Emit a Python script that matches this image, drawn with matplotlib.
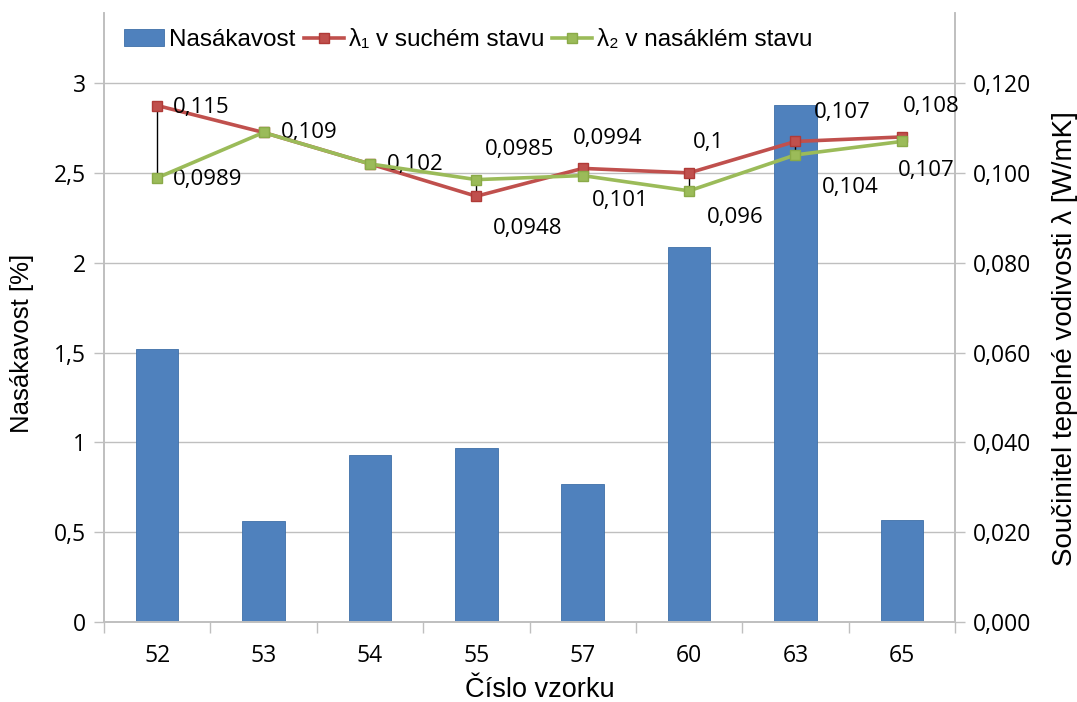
import numpy as np
import matplotlib.pyplot as plt
from matplotlib.ticker import FixedLocator, FuncFormatter

# data
samples = ["52", "53", "54", "55", "57", "60", "63", "65"]
nasakavost = [1.52, 0.56, 0.93, 0.97, 0.77, 2.09, 2.88, 0.57]
lambda_dry = [0.115, 0.109, 0.102, 0.0948, 0.101, 0.1, 0.107, 0.108]
lambda_wet = [0.0989, 0.109, 0.102, 0.0985, 0.0994, 0.096, 0.104, 0.107]
dry_labels = ["0,115", "0,109", "0,102", "0,0948", "0,101", "0,1", "0,107", "0,108"]
wet_labels = ["0,0989", None, None, "0,0985", "0,0994", "0,096", "0,104", "0,107"]

# label offsets from the marker, in pixels (right, down)
dry_off = [(16, 1.5), (17, 0), (17, 1), (17, 32), (9, 32), (4, -30), (18, -29), (1, -30)]
wet_off = [(16, 2), None, None, (9, -30), (-10, -37), (18, 27), (26, 33), (-4, 29)]

blue = "#4F81BD"
red = "#C0504D"
green = "#9BBB59"
grid_col = "#BFBFBF"
tick_font = "Open Sans"
label_font = ["Liberation Sans", "DejaVu Sans"]

fig = plt.figure(figsize=(10.77, 7.02), dpi=100)
ax = fig.add_axes([104 / 1077, 80 / 702, 851 / 1077, 609 / 702])
ax2 = ax.twinx()

x = np.arange(len(samples))
ax.bar(x, nasakavost, width=0.4, color=blue, edgecolor="#3E6FA8", linewidth=0.6,
       label="Nasákavost", zorder=2)

ax.set_xlim(-0.5, len(samples) - 0.5)
ax.set_ylim(0, 3.39)
ax2.set_ylim(0, 3.39 * 0.04)

# high-low lines between the two lambda series
ax2.vlines(x, lambda_wet, lambda_dry, color="black", linewidth=1, zorder=2)
l1, = ax2.plot(x, lambda_dry, color=red, linewidth=2.6, marker="s", markersize=7,
               markerfacecolor=red, markeredgecolor="#B03A37", label="λ₁ v suchém stavu",
               zorder=3)
l2, = ax2.plot(x, lambda_wet, color=green, linewidth=2.6, marker="s", markersize=7,
               markerfacecolor=green, markeredgecolor="#8AAA48", label="λ₂ v nasáklém stavu",
               zorder=4)

for xi, v, txt, off in zip(x, lambda_dry, dry_labels, dry_off):
    ax2.annotate(txt, (xi, v), xytext=(off[0] * 0.72, -off[1] * 0.72), textcoords="offset points",
                 ha="left", va="center", fontsize=16, family=tick_font, color="black")
for xi, v, txt, off in zip(x, lambda_wet, wet_labels, wet_off):
    if txt is None:
        continue
    ax2.annotate(txt, (xi, v), xytext=(off[0] * 0.72, -off[1] * 0.72), textcoords="offset points",
                 ha="left", va="center", fontsize=16, family=tick_font, color="black")

# left axis
ax.set_yticks(np.arange(0, 3.01, 0.5))
ax.yaxis.set_major_formatter(FuncFormatter(lambda v, p: ("%g" % v).replace(".", ",")))
ax.grid(axis="y", color=grid_col, linewidth=1, zorder=0)
ax.set_axisbelow(True)
ax.tick_params(axis="y", length=7, color=grid_col, width=1, labelsize=16.5, pad=6)

# right axis
ax2.set_yticks(np.arange(0, 0.1201, 0.02))
ax2.yaxis.set_major_formatter(FuncFormatter(lambda v, p: ("%.3f" % v).replace(".", ",")))
ax2.tick_params(axis="y", length=7, color=grid_col, width=1, labelsize=16.5, pad=6)

# x axis: ticks between categories, labels at centers
ax.xaxis.set_major_locator(FixedLocator(np.arange(-0.5, len(samples), 1.0)))
ax.xaxis.set_major_formatter(FuncFormatter(lambda v, p: ""))
ax.xaxis.set_minor_locator(FixedLocator(x))
ax.set_xticklabels(samples, minor=True)
ax.tick_params(axis="x", which="major", length=8, color=grid_col, width=1)
ax.tick_params(axis="x", which="minor", length=0, labelsize=16.5, pad=16)

for a in (ax, ax2):
    for lab in a.get_xticklabels(minor=True) + a.get_yticklabels():
        lab.set_family(tick_font)
    a.spines["top"].set_visible(False)
    for s in ("left", "right", "bottom"):
        a.spines[s].set_color(grid_col)
        a.spines[s].set_linewidth(1.2)

ax.set_xlabel("Číslo vzorku", fontsize=19.5, family=label_font, va="center")
ax.xaxis.set_label_coords(0.512, -0.112)
ax.set_ylabel("Nasákavost [%]", fontsize=18.5, family=label_font, ha="center", va="center")
ax.yaxis.set_label_coords(-0.0964, 0.458)
ax2.set_ylabel("Součinitel tepelné vodivosti λ [W/mK]", fontsize=20, family=label_font,
               ha="center", va="center", rotation=90)
ax2.yaxis.set_label_coords(1.129, 0.466)

handles = [ax.containers[0], l1, l2]
leg = ax2.legend(handles, [h.get_label() for h in handles], loc="upper left",
                 bbox_to_anchor=(0.006, 0.997), ncol=3, frameon=False,
                 prop={"family": label_font, "size": 17.5}, handlelength=1.65,
                 handletextpad=0.2, columnspacing=0.35, borderaxespad=0.2)

fig.savefig("out.png", dpi=100)
